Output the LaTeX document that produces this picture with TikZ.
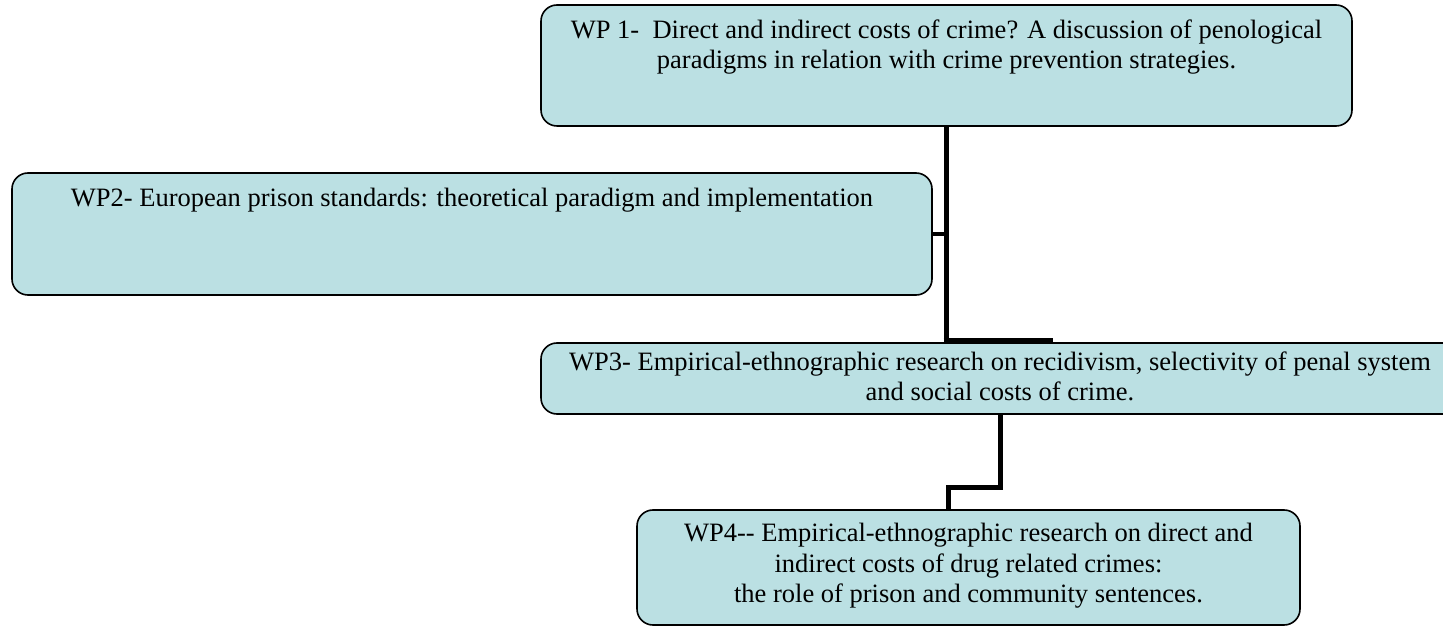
\documentclass[tikz,border=0pt]{standalone}
\usepackage{fontspec}
\setmainfont{Liberation Serif}
\definecolor{boxfill}{HTML}{BBE0E3}
\begin{document}
\begin{tikzpicture}[x=1pt,y=1pt,
  box/.style={draw=black, line width=1.6pt, fill=boxfill, rounded corners=16pt, inner sep=0pt},
  txt/.style={anchor=north, align=center, inner sep=0pt, font=\fontsize{26.5}{30.5}\selectfont},
  conn/.style={draw=black, line width=5pt},
  thin conn/.style={draw=black, line width=4pt}]
\useasboundingbox (0,0) rectangle (1443,627);
% boxes (pixel coords, y flipped)
\node[box, minimum width=811pt, minimum height=121pt] (wp1) at (946.5,561.5) {};
\node[box, minimum width=920pt, minimum height=122pt] (wp2) at (472,393) {};
\node[box, minimum width=918pt, minimum height=71pt] (wp3) at (1000,248.5) {};
\node[box, minimum width=663pt, minimum height=115pt] (wp4) at (968.5,59.5) {};
% texts
\node[txt] (t1) at ([yshift=-15pt]wp1.north) {WP 1-\ \ Direct and indirect costs of crime? A discussion of penological\\paradigms in relation with crime prevention strategies.};
\node[txt] (t2) at ([yshift=-16pt]wp2.north) {WP2- European prison standards: theoretical paradigm and implementation};
\node[txt] (t3) at ([yshift=-9pt]wp3.north) {WP3- Empirical-ethnographic research on recidivism, selectivity of penal system\\and social costs of crime.};
\node[txt] (t4) at ([yshift=-14pt]wp4.north) {WP4-{}- Empirical-ethnographic research on direct and\\indirect costs of drug related crimes:\\the role of prison and community sentences.};
% connectors
\coordinate (trunkTop) at (946,501);
\coordinate (trunkBot) at (946,286.5);
\coordinate (trunkEnd) at (1053,286.5);
\coordinate (wp2Join) at (946,393);
\draw[conn] (trunkTop) -- (trunkBot);
\draw[thin conn] ([xshift=-2.5pt]trunkBot) -- (trunkEnd);
\draw[thin conn] (wp2.east) -- (wp2Join);
\coordinate (c3a) at (1000,213);
\coordinate (c3b) at (1000,140);
\coordinate (c3c) at (948,140);
\coordinate (c3d) at (948,117);
\draw[conn] (c3a) -- (c3b) -- (c3c) -- (c3d);
\end{tikzpicture}
\end{document}
